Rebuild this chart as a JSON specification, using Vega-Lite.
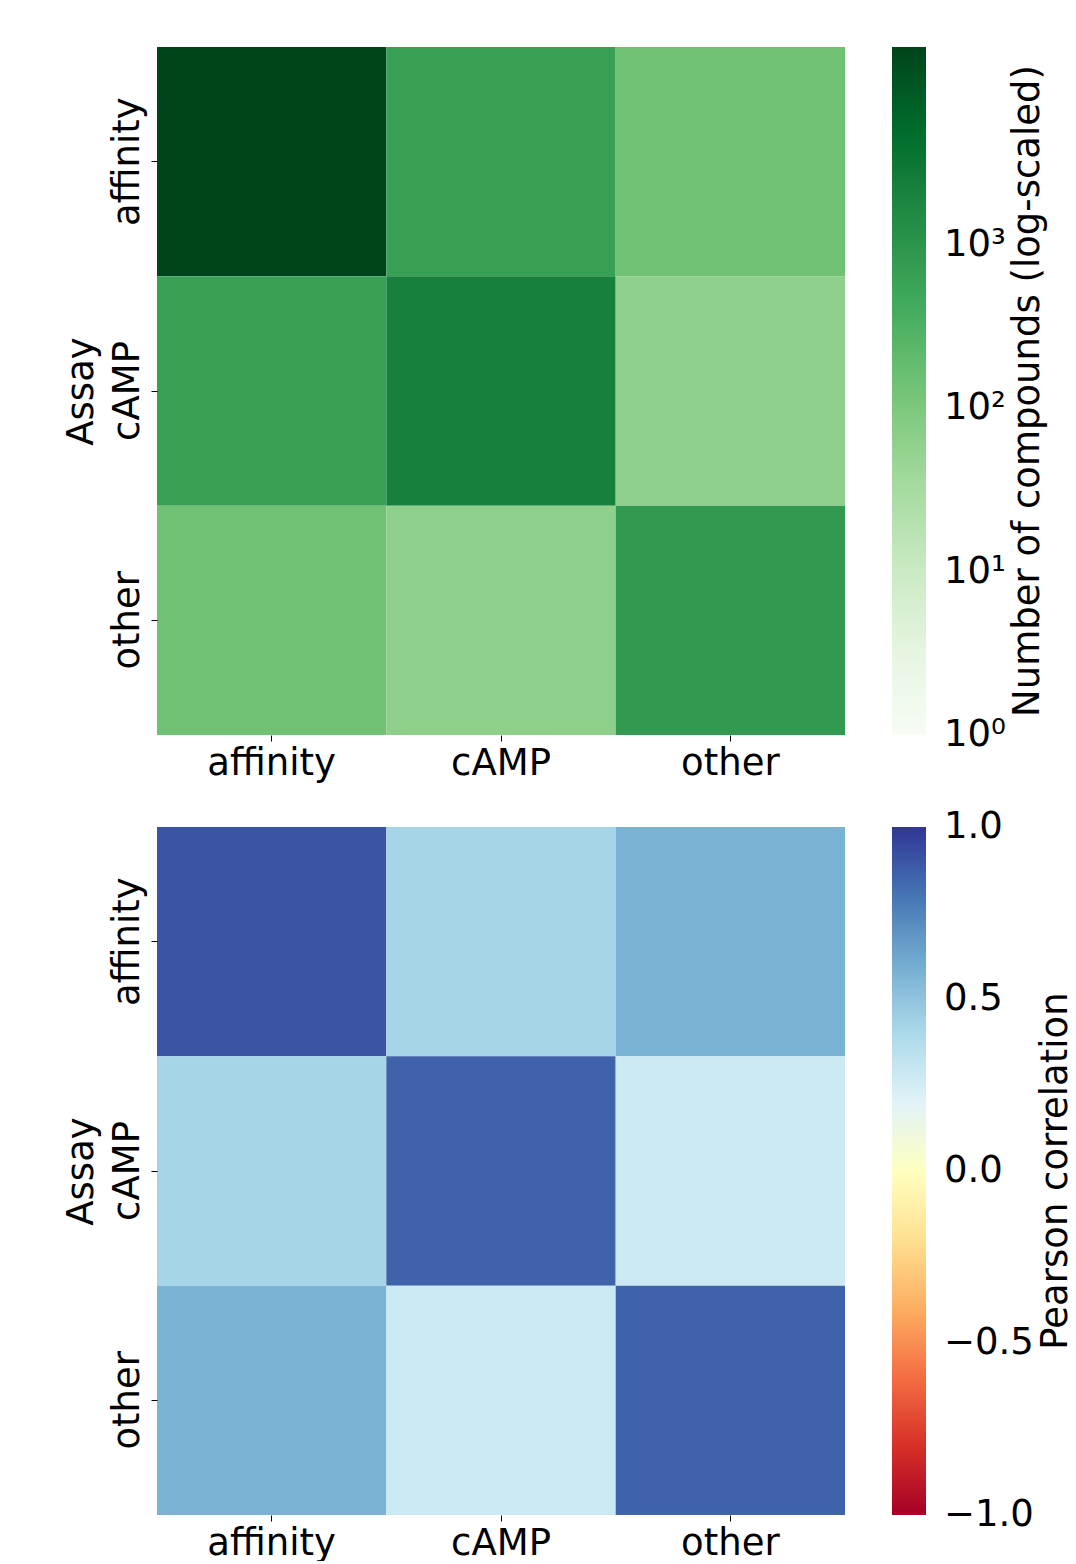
{
  "$schema": "https://vega.github.io/schema/vega-lite/v6.json",
  "padding": {"left": 61, "top": 47, "right": 0, "bottom": 0},
  "spacing": 46,
  "config": {
    "font": "DejaVu Sans",
    "view": {"stroke": null},
    "axis": {"domain": false, "tickSize": 6, "tickColor": "#000", "labelColor": "#000", "titleColor": "#000", "labelFontSize": 37, "titleFontSize": 37, "titleFontWeight": "normal", "labelPadding": 5, "grid": false},
    "legend": {"labelFontSize": 37, "titleFontSize": 37, "titleFontWeight": "normal", "labelColor": "#000", "titleColor": "#000", "gradientLength": 688, "gradientThickness": 34, "offset": 47, "titleOrient": "right", "titleAnchor": "middle", "titleLimit": 900, "titlePadding": 4, "gradientLabelOffset": 18, "gradientStrokeWidth": 0}
  },
  "datasets": {
    "counts": [
      {"row": "affinity", "col": "affinity", "n": 16300},
      {"row": "affinity", "col": "cAMP", "n": 645},
      {"row": "affinity", "col": "other", "n": 144},
      {"row": "cAMP", "col": "affinity", "n": 645},
      {"row": "cAMP", "col": "cAMP", "n": 2250},
      {"row": "cAMP", "col": "other", "n": 64},
      {"row": "other", "col": "affinity", "n": 144},
      {"row": "other", "col": "cAMP", "n": 64},
      {"row": "other", "col": "other", "n": 820}
    ],
    "corr": [
      {"row": "affinity", "col": "affinity", "r": 0.905},
      {"row": "affinity", "col": "cAMP", "r": 0.418},
      {"row": "affinity", "col": "other", "r": 0.575},
      {"row": "cAMP", "col": "affinity", "r": 0.418},
      {"row": "cAMP", "col": "cAMP", "r": 0.857},
      {"row": "cAMP", "col": "other", "r": 0.28},
      {"row": "other", "col": "affinity", "r": 0.575},
      {"row": "other", "col": "cAMP", "r": 0.28},
      {"row": "other", "col": "other", "r": 0.857}
    ]
  },
  "vconcat": [
    {
      "width": 688,
      "height": 688,
      "data": {"name": "counts"},
      "mark": {"type": "rect"},
      "encoding": {
        "x": {"field": "col", "type": "nominal", "sort": ["affinity", "cAMP", "other"], "title": null, "scale": {"paddingInner": 0, "paddingOuter": 0}, "axis": {"labelAngle": 0, "labelPadding": 4}},
        "y": {"field": "row", "type": "nominal", "sort": ["affinity", "cAMP", "other"], "title": "Assay", "scale": {"paddingInner": 0, "paddingOuter": 0}, "axis": {"labelAngle": -90, "titlePadding": 8}},
        "color": {"field": "n", "type": "quantitative", "scale": {"type": "log", "domain": [1, 3.362, 11.30, 37.98, 127.7, 429.2, 1443, 4851, 16300], "range": ["#f7fcf5", "#e5f5e0", "#c7e9c0", "#a1d99b", "#74c476", "#41ab5d", "#238b45", "#006d2c", "#00441b"], "interpolate": "rgb"}, "legend": {"title": "Number of compounds (log-scaled)", "values": [1, 10, 100, 1000], "labelExpr": "datum.value == 1 ? '10⁰' : datum.value == 10 ? '10¹' : datum.value == 100 ? '10²' : '10³'", "encode": {"title": {"update": {"angle": {"value": 270}, "baseline": {"value": "top"}}}, "labels": {"update": {"baseline": {"value": "middle"}}}}}}
      }
    },
    {
      "width": 688,
      "height": 688,
      "data": {"name": "corr"},
      "mark": {"type": "rect"},
      "encoding": {
        "x": {"field": "col", "type": "nominal", "sort": ["affinity", "cAMP", "other"], "title": null, "scale": {"paddingInner": 0, "paddingOuter": 0}, "axis": {"labelAngle": 0, "labelPadding": 4}},
        "y": {"field": "row", "type": "nominal", "sort": ["affinity", "cAMP", "other"], "title": "Assay", "scale": {"paddingInner": 0, "paddingOuter": 0}, "axis": {"labelAngle": -90, "titlePadding": 8}},
        "color": {"field": "r", "type": "quantitative", "scale": {"domain": [-1, -0.8, -0.6, -0.4, -0.2, 0, 0.2, 0.4, 0.6, 0.8, 1], "range": ["#a50026", "#d73027", "#f46d43", "#fdae61", "#fee090", "#ffffbf", "#e0f3f8", "#abd9e9", "#74add1", "#4575b4", "#313695"], "interpolate": "rgb"}, "legend": {"title": "Pearson correlation", "values": [-1, -0.5, 0, 0.5, 1], "format": ".1f", "encode": {"title": {"update": {"angle": {"value": 270}, "baseline": {"value": "top"}}}, "labels": {"update": {"baseline": {"value": "middle"}}}}}}
      }
    }
  ],
  "resolve": {"scale": {"color": "independent"}, "legend": {"color": "independent"}}
}
